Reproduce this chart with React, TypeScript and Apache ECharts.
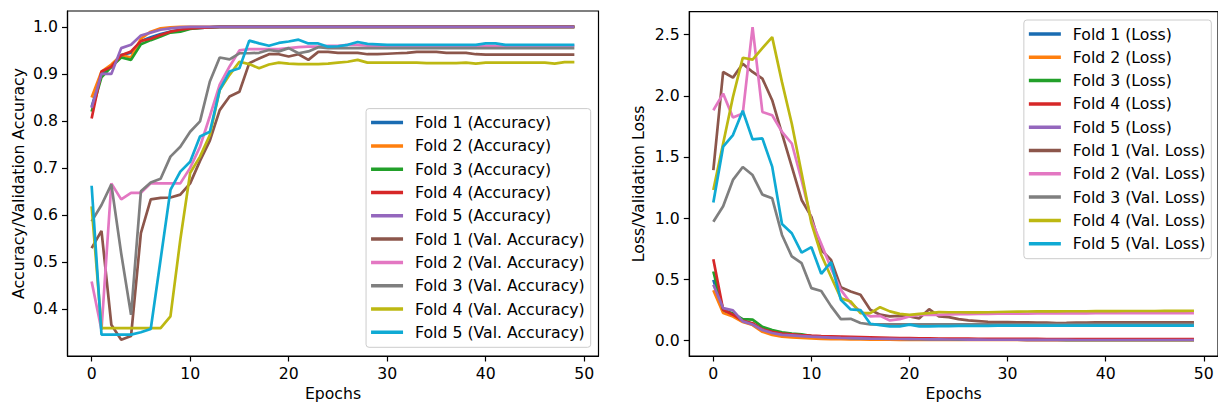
import React, { useEffect, useRef } from "react";
import * as echarts from "echarts";

const epochs: number[] = Array.from({ length: 50 }, (_, i) => i);

const accNames = ["Fold 1 (Accuracy)", "Fold 2 (Accuracy)", "Fold 3 (Accuracy)", "Fold 4 (Accuracy)", "Fold 5 (Accuracy)",
  "Fold 1 (Val. Accuracy)", "Fold 2 (Val. Accuracy)", "Fold 3 (Val. Accuracy)", "Fold 4 (Val. Accuracy)", "Fold 5 (Val. Accuracy)"];
const lossNames = ["Fold 1 (Loss)", "Fold 2 (Loss)", "Fold 3 (Loss)", "Fold 4 (Loss)", "Fold 5 (Loss)",
  "Fold 1 (Val. Loss)", "Fold 2 (Val. Loss)", "Fold 3 (Val. Loss)", "Fold 4 (Val. Loss)", "Fold 5 (Val. Loss)"];

const colors = ["#1a6cb2", "#ff7f0e", "#22a02a", "#d62728", "#9467bd", "#8c564b", "#e377c2", "#7f7f7f", "#bdb812", "#0faad4"];

// Training accuracy
const accF1 = [0.830, 0.900, 0.915, 0.940, 0.945, 0.970, 0.978, 0.985, 0.990, 0.994, 0.997, 0.998, 0.999, 1.000, 1.000, 1.000, 1.000, 1.000, 1.000, 1.000, 1.000, 1.000, 1.000, 1.000, 1.000, 1.000, 1.000, 1.000, 1.000, 1.000, 1.000, 1.000, 1.000, 1.000, 1.000, 1.000, 1.000, 1.000, 1.000, 1.000, 1.000, 1.000, 1.000, 1.000, 1.000, 1.000, 1.000, 1.000, 1.000, 1.000];
const accF2 = [0.850, 0.905, 0.920, 0.940, 0.935, 0.975, 0.990, 0.997, 0.999, 1.000, 1.000, 1.000, 1.000, 1.000, 1.000, 1.000, 1.000, 1.000, 1.000, 1.000, 1.000, 1.000, 1.000, 1.000, 1.000, 1.000, 1.000, 1.000, 1.000, 1.000, 1.000, 1.000, 1.000, 1.000, 1.000, 1.000, 1.000, 1.000, 1.000, 1.000, 1.000, 1.000, 1.000, 1.000, 1.000, 1.000, 1.000, 1.000, 1.000, 1.000];
const accF3 = [0.820, 0.893, 0.915, 0.935, 0.930, 0.963, 0.972, 0.980, 0.988, 0.990, 0.996, 0.998, 0.999, 1.000, 1.000, 1.000, 1.000, 1.000, 1.000, 1.000, 1.000, 1.000, 1.000, 1.000, 1.000, 1.000, 1.000, 1.000, 1.000, 1.000, 1.000, 1.000, 1.000, 1.000, 1.000, 1.000, 1.000, 1.000, 1.000, 1.000, 1.000, 1.000, 1.000, 1.000, 1.000, 1.000, 1.000, 1.000, 1.000, 1.000];
const accF4 = [0.805, 0.905, 0.915, 0.940, 0.948, 0.970, 0.975, 0.983, 0.990, 0.994, 0.997, 0.998, 0.999, 1.000, 1.000, 1.000, 1.000, 1.000, 1.000, 1.000, 1.000, 1.000, 1.000, 1.000, 1.000, 1.000, 1.000, 1.000, 1.000, 1.000, 1.000, 1.000, 1.000, 1.000, 1.000, 1.000, 1.000, 1.000, 1.000, 1.000, 1.000, 1.000, 1.000, 1.000, 1.000, 1.000, 1.000, 1.000, 1.000, 1.000];
const accF5 = [0.828, 0.900, 0.900, 0.955, 0.962, 0.982, 0.988, 0.994, 0.997, 0.999, 1.000, 1.000, 1.000, 1.000, 1.000, 1.000, 1.000, 1.000, 1.000, 1.000, 1.000, 1.000, 1.000, 1.000, 1.000, 1.000, 1.000, 1.000, 1.000, 1.000, 1.000, 1.000, 1.000, 1.000, 1.000, 1.000, 1.000, 1.000, 1.000, 1.000, 1.000, 1.000, 1.000, 1.000, 1.000, 1.000, 1.000, 1.000, 1.000, 1.000];

// Validation accuracy
const valAccF1 = [0.529, 0.566, 0.366, 0.334, 0.342, 0.561, 0.633, 0.636, 0.637, 0.643, 0.667, 0.715, 0.758, 0.823, 0.852, 0.862, 0.923, 0.933, 0.942, 0.942, 0.937, 0.942, 0.930, 0.947, 0.947, 0.945, 0.945, 0.945, 0.942, 0.942, 0.943, 0.944, 0.945, 0.947, 0.947, 0.947, 0.945, 0.945, 0.945, 0.942, 0.941, 0.941, 0.941, 0.941, 0.941, 0.941, 0.941, 0.941, 0.941, 0.941];
const valAccF2 = [0.458, 0.355, 0.667, 0.633, 0.647, 0.647, 0.667, 0.667, 0.667, 0.667, 0.700, 0.745, 0.810, 0.877, 0.916, 0.950, 0.953, 0.953, 0.953, 0.953, 0.955, 0.957, 0.958, 0.958, 0.960, 0.960, 0.962, 0.962, 0.960, 0.960, 0.960, 0.960, 0.960, 0.960, 0.960, 0.960, 0.960, 0.960, 0.960, 0.960, 0.960, 0.960, 0.960, 0.960, 0.960, 0.960, 0.960, 0.960, 0.960, 0.960];
const valAccF3 = [0.586, 0.621, 0.665, 0.518, 0.387, 0.650, 0.669, 0.677, 0.724, 0.745, 0.777, 0.799, 0.884, 0.935, 0.931, 0.944, 0.944, 0.945, 0.951, 0.948, 0.955, 0.944, 0.948, 0.957, 0.955, 0.955, 0.955, 0.955, 0.955, 0.955, 0.955, 0.955, 0.955, 0.955, 0.955, 0.955, 0.955, 0.955, 0.955, 0.955, 0.955, 0.955, 0.955, 0.955, 0.955, 0.955, 0.955, 0.955, 0.955, 0.955];
const valAccF4 = [0.618, 0.359, 0.359, 0.359, 0.359, 0.359, 0.359, 0.359, 0.384, 0.547, 0.689, 0.724, 0.770, 0.866, 0.898, 0.926, 0.921, 0.912, 0.920, 0.924, 0.922, 0.921, 0.921, 0.921, 0.922, 0.924, 0.926, 0.930, 0.924, 0.924, 0.924, 0.924, 0.924, 0.924, 0.923, 0.923, 0.923, 0.923, 0.924, 0.922, 0.924, 0.924, 0.924, 0.924, 0.924, 0.924, 0.924, 0.922, 0.925, 0.925];
const valAccF5 = [0.662, 0.345, 0.345, 0.345, 0.345, 0.350, 0.357, 0.505, 0.653, 0.692, 0.713, 0.767, 0.777, 0.866, 0.905, 0.912, 0.971, 0.965, 0.960, 0.966, 0.969, 0.973, 0.965, 0.965, 0.958, 0.959, 0.962, 0.968, 0.964, 0.963, 0.962, 0.962, 0.962, 0.962, 0.962, 0.962, 0.962, 0.962, 0.962, 0.962, 0.965, 0.965, 0.962, 0.962, 0.962, 0.962, 0.962, 0.962, 0.962, 0.962];

// Training loss
const lossF1 = [0.495, 0.240, 0.215, 0.160, 0.135, 0.085, 0.062, 0.050, 0.042, 0.036, 0.030, 0.026, 0.022, 0.019, 0.017, 0.015, 0.013, 0.012, 0.011, 0.010, 0.009, 0.008, 0.008, 0.007, 0.007, 0.006, 0.006, 0.006, 0.005, 0.005, 0.005, 0.005, 0.004, 0.004, 0.004, 0.004, 0.004, 0.004, 0.003, 0.003, 0.003, 0.003, 0.003, 0.003, 0.003, 0.003, 0.003, 0.003, 0.003, 0.003];
const lossF2 = [0.410, 0.223, 0.195, 0.150, 0.125, 0.070, 0.045, 0.030, 0.025, 0.020, 0.015, 0.012, 0.010, 0.009, 0.008, 0.007, 0.006, 0.005, 0.005, 0.004, 0.004, 0.004, 0.004, 0.003, 0.003, 0.003, 0.003, 0.003, 0.003, 0.003, 0.003, 0.003, 0.002, 0.002, 0.002, 0.002, 0.002, 0.002, 0.002, 0.002, 0.002, 0.002, 0.002, 0.002, 0.002, 0.002, 0.002, 0.002, 0.002, 0.002];
const lossF3 = [0.563, 0.250, 0.220, 0.174, 0.169, 0.110, 0.085, 0.065, 0.055, 0.050, 0.035, 0.030, 0.027, 0.024, 0.021, 0.019, 0.017, 0.015, 0.014, 0.013, 0.012, 0.011, 0.010, 0.009, 0.009, 0.008, 0.008, 0.007, 0.007, 0.006, 0.006, 0.006, 0.005, 0.005, 0.005, 0.005, 0.004, 0.004, 0.004, 0.004, 0.004, 0.004, 0.003, 0.003, 0.003, 0.003, 0.003, 0.003, 0.003, 0.003];
const lossF4 = [0.663, 0.250, 0.210, 0.160, 0.140, 0.090, 0.070, 0.055, 0.050, 0.042, 0.038, 0.035, 0.033, 0.031, 0.029, 0.027, 0.025, 0.023, 0.021, 0.019, 0.018, 0.017, 0.016, 0.015, 0.015, 0.014, 0.014, 0.013, 0.013, 0.013, 0.012, 0.012, 0.012, 0.012, 0.011, 0.011, 0.011, 0.011, 0.011, 0.011, 0.010, 0.010, 0.010, 0.010, 0.010, 0.010, 0.010, 0.010, 0.010, 0.010];
const lossF5 = [0.454, 0.264, 0.245, 0.155, 0.130, 0.085, 0.060, 0.045, 0.040, 0.035, 0.030, 0.026, 0.023, 0.020, 0.018, 0.016, 0.014, 0.013, 0.012, 0.011, 0.010, 0.009, 0.008, 0.008, 0.007, 0.007, 0.006, 0.006, 0.005, 0.005, 0.005, 0.005, 0.004, 0.004, 0.004, 0.004, 0.004, 0.003, 0.003, 0.003, 0.003, 0.003, 0.003, 0.003, 0.003, 0.003, 0.003, 0.003, 0.003, 0.003];

// Validation loss
const valLossF1 = [1.393, 2.195, 2.149, 2.263, 2.195, 2.141, 1.964, 1.690, 1.420, 1.148, 1.010, 0.740, 0.658, 0.435, 0.400, 0.373, 0.250, 0.210, 0.196, 0.200, 0.195, 0.180, 0.255, 0.196, 0.190, 0.174, 0.163, 0.158, 0.152, 0.150, 0.150, 0.148, 0.147, 0.146, 0.145, 0.142, 0.143, 0.145, 0.146, 0.147, 0.147, 0.147, 0.147, 0.147, 0.147, 0.147, 0.147, 0.147, 0.147, 0.147];
const valLossF2 = [1.882, 2.018, 1.822, 1.855, 2.562, 1.868, 1.841, 1.705, 1.610, 1.310, 0.980, 0.790, 0.590, 0.413, 0.305, 0.237, 0.196, 0.200, 0.163, 0.174, 0.196, 0.209, 0.209, 0.209, 0.212, 0.214, 0.215, 0.216, 0.217, 0.218, 0.218, 0.219, 0.219, 0.220, 0.220, 0.220, 0.221, 0.221, 0.221, 0.222, 0.222, 0.222, 0.222, 0.222, 0.223, 0.223, 0.223, 0.223, 0.223, 0.223];
const valLossF3 = [0.970, 1.097, 1.312, 1.418, 1.352, 1.192, 1.162, 0.862, 0.686, 0.631, 0.427, 0.404, 0.280, 0.174, 0.176, 0.142, 0.131, 0.131, 0.130, 0.130, 0.131, 0.130, 0.130, 0.131, 0.131, 0.131, 0.131, 0.131, 0.131, 0.131, 0.131, 0.131, 0.131, 0.131, 0.132, 0.132, 0.132, 0.132, 0.132, 0.132, 0.132, 0.132, 0.132, 0.132, 0.132, 0.132, 0.132, 0.132, 0.132, 0.132];
const valLossF4 = [1.230, 1.610, 1.990, 2.311, 2.296, 2.390, 2.480, 2.112, 1.772, 1.366, 0.958, 0.700, 0.520, 0.345, 0.318, 0.223, 0.223, 0.271, 0.237, 0.217, 0.209, 0.217, 0.223, 0.231, 0.230, 0.230, 0.229, 0.228, 0.230, 0.232, 0.234, 0.235, 0.236, 0.237, 0.237, 0.237, 0.238, 0.238, 0.238, 0.239, 0.239, 0.239, 0.240, 0.240, 0.240, 0.240, 0.241, 0.241, 0.241, 0.242];
const valLossF5 = [1.128, 1.584, 1.679, 1.878, 1.644, 1.652, 1.421, 0.952, 0.876, 0.718, 0.762, 0.544, 0.640, 0.332, 0.253, 0.248, 0.136, 0.124, 0.114, 0.114, 0.128, 0.114, 0.115, 0.116, 0.117, 0.118, 0.118, 0.119, 0.119, 0.120, 0.120, 0.120, 0.120, 0.120, 0.120, 0.120, 0.120, 0.120, 0.120, 0.120, 0.120, 0.120, 0.120, 0.120, 0.120, 0.120, 0.120, 0.120, 0.120, 0.120];

const xTicks = [0, 10, 20, 30, 40, 50];
const accTicks = [0.4, 0.5, 0.6, 0.7, 0.8, 0.9, 1.0];
const lossTicks = [0, 0.5, 1.0, 1.5, 2.0, 2.5];

const accSeriesData = [accF1, accF2, accF3, accF4, accF5, valAccF1, valAccF2, valAccF3, valAccF4, valAccF5];
const lossSeriesData = [lossF1, lossF2, lossF3, lossF4, lossF5, valLossF1, valLossF2, valLossF3, valLossF4, valLossF5];

const FONT = "DejaVu Sans";
const FS = 15.7;

function makeXAxis(gridIndex: number) {
  return {
    type: "value",
    gridIndex,
    min: -2.45,
    max: 51.45,
    name: "Epochs",
    nameLocation: "middle",
    nameGap: 28,
    nameTextStyle: { fontFamily: FONT, fontSize: FS, color: "#000" },
    axisLine: { show: true, onZero: false, lineStyle: { color: "#000", width: 1.2 } },
    axisTick: { show: true, customValues: xTicks, length: 5.5, lineStyle: { color: "#000", width: 1.2 } },
    axisLabel: { show: true, customValues: xTicks, margin: 9, fontFamily: FONT, fontSize: FS, color: "#000", formatter: (v: number) => String(v) },
    splitLine: { show: false },
  };
}

function makeYAxis(gridIndex: number, min: number, max: number, ticks: number[], name: string, nameGap: number) {
  return {
    type: "value",
    gridIndex,
    min,
    max,
    name,
    nameLocation: "middle",
    nameGap,
    nameTextStyle: { fontFamily: FONT, fontSize: FS, color: "#000" },
    axisLine: { show: true, onZero: false, lineStyle: { color: "#000", width: 1.2 } },
    axisTick: { show: true, customValues: ticks, length: 5.5, lineStyle: { color: "#000", width: 1.2 } },
    axisLabel: { show: true, customValues: ticks, margin: 9.5, fontFamily: FONT, fontSize: FS, color: "#000", formatter: (v: number) => v.toFixed(1) },
    splitLine: { show: false },
  };
}

function makeLegend(names: string[], pos: Record<string, number>) {
  return {
    ...pos,
    orient: "vertical",
    data: names,
    icon: "rect",
    itemWidth: 32,
    itemHeight: 3.5,
    itemGap: 7.3,
    padding: [6, 6, 7, 5],
    backgroundColor: "rgba(255,255,255,0.8)",
    borderColor: "#cccccc",
    borderWidth: 1,
    borderRadius: 3,
    textStyle: { fontFamily: FONT, fontSize: FS, color: "#000", lineHeight: 16, padding: [0, 0, 0, 7] },
  };
}

export default function App() {
  const ref = useRef<HTMLDivElement>(null);
  useEffect(() => {
    if (!ref.current) return;
    const chart = echarts.init(ref.current, null, { renderer: "svg" });
    const series: any[] = [];
    accSeriesData.forEach((arr, i) => {
      series.push({
        type: "line",
        name: accNames[i],
        xAxisIndex: 0,
        yAxisIndex: 0,
        data: epochs.map((e, k) => [e, arr[k]]),
        showSymbol: false,
        symbol: "none",
        lineStyle: { width: 2.7, color: colors[i] },
        itemStyle: { color: colors[i] },
      });
    });
    lossSeriesData.forEach((arr, i) => {
      series.push({
        type: "line",
        name: lossNames[i],
        xAxisIndex: 1,
        yAxisIndex: 1,
        data: epochs.map((e, k) => [e, arr[k]]),
        showSymbol: false,
        symbol: "none",
        lineStyle: { width: 2.7, color: colors[i] },
        itemStyle: { color: colors[i] },
      });
    });
    chart.setOption({
      animation: false,
      backgroundColor: "#ffffff",
      textStyle: { fontFamily: FONT },
      grid: [
        { left: 67.5, top: 11, width: 531, height: 345, show: true, borderColor: "#000", borderWidth: 1.2, backgroundColor: "transparent" },
        { left: 689.3, top: 11.7, width: 531, height: 344.3, show: true, borderColor: "#000", borderWidth: 1.2, backgroundColor: "transparent" },
      ],
      xAxis: [makeXAxis(0), makeXAxis(1)],
      yAxis: [
        makeYAxis(0, 0.2995, 1.034, accTicks, "Accuracy/Validation Accuracy", 41),
        makeYAxis(1, -0.128, 2.688, lossTicks, "Loss/Validation Loss", 43),
      ],
      legend: [
        makeLegend(accNames, { right: 627.3, bottom: 60.7 }),
        makeLegend(lossNames, { right: 6.7, top: 20 }),
      ],
      series,
    });
    return () => chart.dispose();
  }, []);
  return <div ref={ref} style={{ position: "absolute", left: 0, top: 0, width: 1218, height: 408, background: "#fff" }} />;
}
